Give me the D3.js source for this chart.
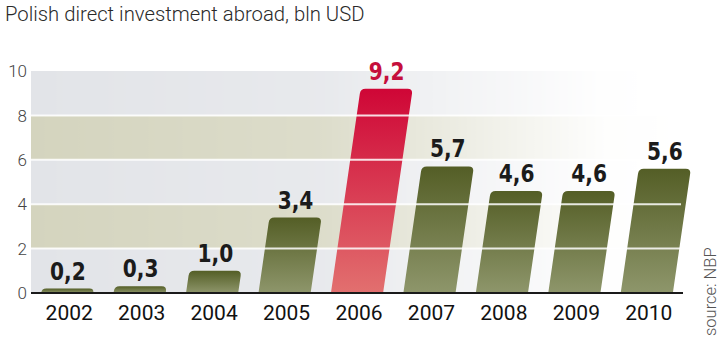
<!DOCTYPE html>
<html><head><meta charset="utf-8">
<script src="https://cdn.jsdelivr.net/npm/d3@7"></script>
<style>
html,body{margin:0;padding:0;background:#fff;}
svg{display:block;}
</style></head>
<body>
<svg id="chart" width="720" height="342"></svg>
<script>
const years = ["2002","2003","2004","2005","2006","2007","2008","2009","2010"];
const values = [0.2, 0.3, 1.0, 3.4, 9.2, 5.7, 4.6, 4.6, 5.6];
const valueLabels = ["0,2","0,3","1,0","3,4","9,2","5,7","4,6","4,6","5,6"];
const highlight = ["2006"];
const yTicks = [0, 2, 4, 6, 8, 10];
const title = "Polish direct investment abroad, bln USD";
const source = "source: NBP";

(function(){
const svg = d3.select("#chart");
const pl = 31, pr = 683, pt = 71, pb = 293;

const x = d3.scaleBand().domain(years).range([pl, pr]).paddingInner(0.28).paddingOuter(0.14);
const y = d3.scaleLinear().domain([0, 10]).range([pb, pt]);
const slope = 0.145;

const defs = svg.append("defs");
const fade = defs.append("linearGradient").attr("id","fade").attr("x1","0").attr("x2","1").attr("y1","0").attr("y2","0");
fade.append("stop").attr("offset","0").attr("stop-color","#fff").attr("stop-opacity",1);
fade.append("stop").attr("offset","0.45").attr("stop-color","#fff").attr("stop-opacity",0.8);
fade.append("stop").attr("offset","0.7").attr("stop-color","#fff").attr("stop-opacity",0.35);
fade.append("stop").attr("offset","0.88").attr("stop-color","#fff").attr("stop-opacity",0.03);
fade.append("stop").attr("offset","1").attr("stop-color","#fff").attr("stop-opacity",0);
const mask = defs.append("mask").attr("id","bandmask");
mask.append("rect").attr("x",pl).attr("y",pt).attr("width",pr-pl).attr("height",pb-pt).attr("fill","url(#fade)");

function grad(id, c1, c2){
  const g = defs.append("linearGradient").attr("id",id).attr("x1","0").attr("x2","0").attr("y1","0").attr("y2","1");
  g.append("stop").attr("offset","0").attr("stop-color",c1);
  g.append("stop").attr("offset","1").attr("stop-color",c2);
}
grad("olive","#545e26","#8e966b");
grad("red","#cf0636","#e2706f");

const bands = svg.append("g").attr("mask","url(#bandmask)");
for (let i = 0; i < yTicks.length - 1; i++) {
  const a = yTicks[i], b = yTicks[i+1];
  bands.append("rect")
    .attr("x", pl).attr("width", pr - pl)
    .attr("y", y(b)).attr("height", y(a) - y(b))
    .attr("fill", i % 2 === 0 ? "#e2e4e8" : "#d4d4be");
}

function barPath(d, i) {
  const v = values[i];
  const x0 = x(years[i]), w = x.bandwidth();
  const yb = y(0), yt = y(v), h = yb - yt;
  const sh = slope * h;
  const r = Math.min(5, h);
  const f = r / h;
  return `M${x0},${yb}` +
    `L${x0 + sh*(1-f)},${yt + r}` +
    `Q${x0 + sh},${yt} ${x0 + sh + r},${yt}` +
    `L${x0 + sh + w - r},${yt}` +
    `Q${x0 + sh + w},${yt} ${x0 + w + sh*(1-f)},${yt + r}` +
    `L${x0 + w},${yb}Z`;
}
svg.append("g").selectAll("path").data(years).join("path")
  .attr("d", barPath)
  .attr("fill", d => highlight.includes(d) ? "url(#red)" : "url(#olive)");

svg.append("g").selectAll("line").data(yTicks.filter(t => t > 0 && t < 10)).join("line")
  .attr("x1", pl).attr("x2", pr - 2)
  .attr("y1", d => y(d)).attr("y2", d => y(d))
  .attr("stroke", "#fff").attr("stroke-opacity", 0.85).attr("stroke-width", 2);

svg.append("line").attr("x1", pl).attr("x2", pr).attr("y1", pb).attr("y2", pb)
  .attr("stroke", "#1a1a1a").attr("stroke-width", 2);

svg.append("g").selectAll("text").data(years).join("text")
  .attr("transform", (d,i) => `translate(${x(d) + x.bandwidth()/2 + slope*(y(0)-y(values[i]))},${y(values[i]) - 9}) scale(0.84,1.02)`)
  .attr("text-anchor", "middle")
  .attr("font-family", "'DejaVu Sans', sans-serif")
  .attr("font-weight", "bold")
  .attr("font-size", 24)
  .attr("fill", d => highlight.includes(d) ? "#c50f3c" : "#1b1b1b")
  .text((d,i) => valueLabels[i]);

svg.append("g").selectAll("text").data(years).join("text")
  .attr("x", d => x(d) + x.bandwidth()/2 + 2)
  .attr("y", 320)
  .attr("text-anchor", "middle")
  .attr("font-family", "Roboto, 'DejaVu Sans', sans-serif")
  .attr("font-size", 21)
  .attr("fill", "#111")
  .text(d => d);

svg.append("g").selectAll("text").data(yTicks).join("text")
  .attr("x", 27).attr("y", d => y(d)).attr("dy", "0.36em")
  .attr("text-anchor", "end")
  .attr("font-family", "Roboto, 'DejaVu Sans', sans-serif")
  .attr("font-weight", 300)
  .attr("font-size", 17)
  .attr("fill", "#444")
  .text(d => d);

svg.append("text").attr("x", 5).attr("y", 21)
  .attr("font-family", "Roboto, 'DejaVu Sans', sans-serif")
  .attr("font-weight", 300)
  .attr("font-size", 20.3)
  .attr("fill", "#2a2a2a")
  .text(title);

svg.append("text")
  .attr("transform", "translate(716,336) rotate(-90)")
  .attr("font-family", "Roboto, 'DejaVu Sans', sans-serif")
  .attr("font-weight", 300)
  .attr("font-size", 16.5)
  .attr("fill", "#555")
  .text(source);
})();
</script>
</body></html>
